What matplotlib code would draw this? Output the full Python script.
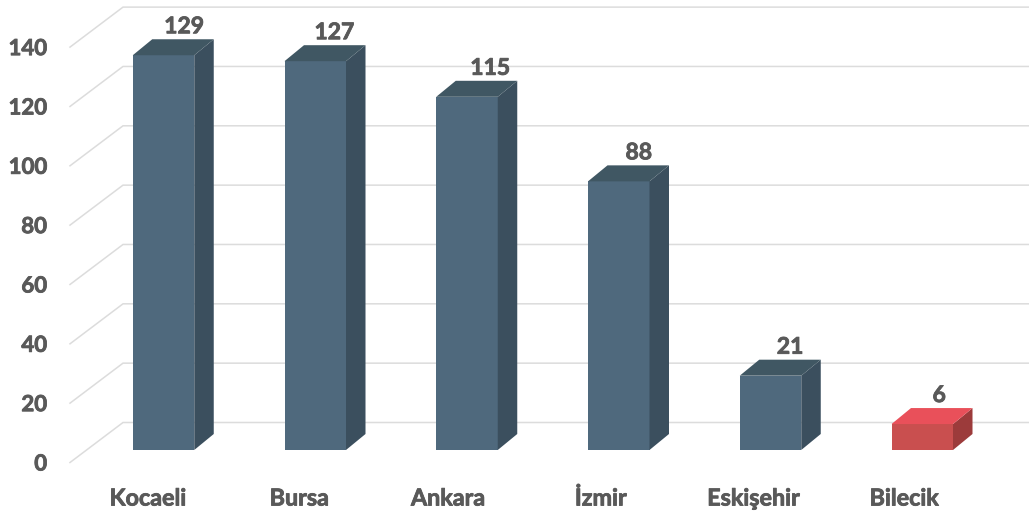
import numpy as np
import matplotlib
matplotlib.use('Agg')
import matplotlib.pyplot as plt
import matplotlib.patheffects as pe

# Data
cities = ['Kocaeli', 'Bursa', 'Ankara', 'İzmir', 'Eskişehir', 'Bilecik']
values = [129, 127, 115, 88, 21, 6]
drawn = [129, 127, 115, 86.5, 21, 4.7]  # bar heights
yticks = [0, 20, 40, 60, 80, 100, 120, 140]

plt.rcParams['font.family'] = ['Lato', 'DejaVu Sans']
text_col = '#595959'
thick = [pe.withStroke(linewidth=0.6, foreground=text_col)]

W, H = 1029, 511
x_scale = 151.75  # px per category
y_scale = 2.967   # px per value unit
x0_px, y0_px = 163.5, 438

fig = plt.figure(figsize=(W / 100, H / 100), dpi=100)
ax = fig.add_axes([0, 0, 1, 1])
ax.set_xlim(-x0_px / x_scale, (W - x0_px) / x_scale)
ax.set_ylim((y0_px - H) / y_scale, y0_px / y_scale)
ax.axis('off')


def dx(px):
    return px / x_scale


def dy(px):
    return px / y_scale


# floor and back wall gridlines
left = dx(70 - x0_px)
for t in yticks:
    y_front = t - dy(462.5 - y0_px)
    y_back = y_front + dy(40)
    ax.plot([left, left + dx(53), ax.get_xlim()[1]], [y_front, y_back, y_back],
            color='#dcdcdc', lw=1.1, zorder=1, solid_joinstyle='miter')
    ax.text(dx(47 - x0_px), t - dy(464 - y0_px), str(t), ha='right', va='center',
            fontsize=16, fontweight='bold', color=text_col, path_effects=thick)

# 3D bars
hw = dx(30.75)
depth_x, depth_y = dx(19.5), dy(16)
base = dy(y0_px - 450)
label_shift = [-15.5, -16, -19, -18, -17, -18]
value_shift = [20.5, 19, 23, 20, 19.5, 17]
for i, (name, v, h) in enumerate(zip(cities, values, drawn)):
    front, side, top = '#4f697d', '#3b4f5e', '#405763'
    if name == 'Bilecik':
        front, side, top = '#c94f4f', '#9c3b3b', '#e9505a'
    l, r = i - hw, i + hw
    ax.fill([l, r, r, l], [base, base, h, h], color=front, lw=0, zorder=3)
    ax.fill([r, r + depth_x, r + depth_x, r],
            [base, base + depth_y, h + depth_y, h], color=side, lw=0, zorder=3)
    ax.fill([l, r, r + depth_x, l + depth_x],
            [h, h, h + depth_y, h + depth_y], color=top, lw=0, zorder=3)
    ax.text(i + dx(value_shift[i]), h + dy(28.5), str(v), ha='center', va='center',
            fontsize=16.5, fontweight='bold', color=text_col, zorder=4, path_effects=thick)
    ax.text(i + dx(label_shift[i]), dy(y0_px - 499), name, ha='center', va='center',
            fontsize=16.8, fontweight='bold', color=text_col, path_effects=thick)

fig.savefig('out.png', dpi=100)
